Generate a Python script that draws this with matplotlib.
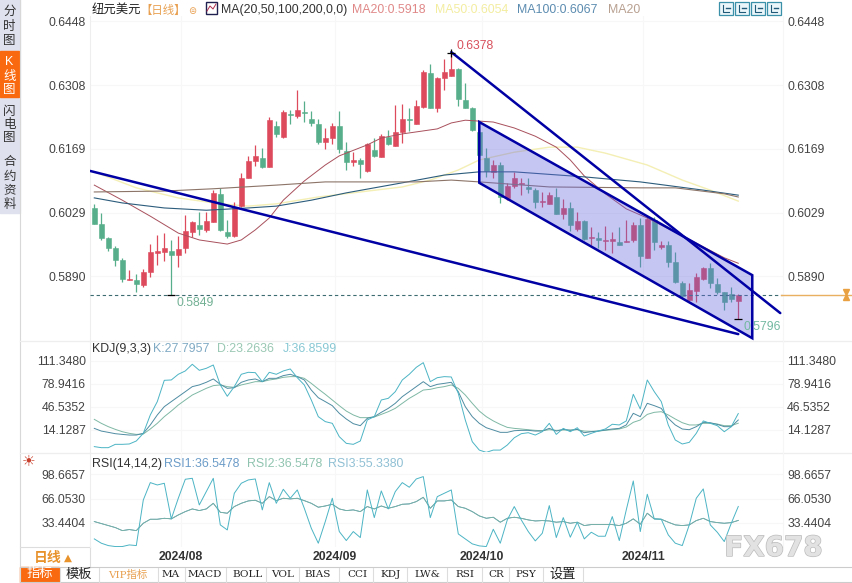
import matplotlib
matplotlib.use("Agg")
import matplotlib.pyplot as plt
import matplotlib.patheffects as pe
from matplotlib.patches import Rectangle, Polygon

plt.rcParams['font.family'] = ['Liberation Sans', 'Noto Sans CJK SC', 'DejaVu Sans']

# ---------- data ----------
opens = [.6039,.6004,.5973,.5951,.5925,.5881,.5881,.5870,.5899,.5940,.5943,.5945,.5936,.5951,.5986,.6002,.5991,.6008,.6070,.5986,.5978,.6043,.6105,.6142,.6148,.6129,.6218,.6194,.6245,.6240,.6249,.6234,.6223,.6183,.6192,.6218,.6164,.6140,.6144,.6120,.6166,.6151,.6194,.6175,.6205,.6234,.6223,.6260,.6334,.6258,.6323,.6328,.6343,.6275,.6258,.6205,.6148,.6118,.6133,.6061,.6087,.6091,.6085,.6078,.6052,.6048,.6063,.6026,.6039,.5993,.6010,.5973,.5973,.5967,.5967,.5965,.5965,.5969,.6002,.5929,.6013,.5954,.5958,.5921,.5875,.5838,.5857,.5884,.5908,.5873,.5855,.5851,.5835]
highs = [.6048,.6028,.5975,.5956,.5929,.5903,.5894,.5905,.5960,.5980,.5984,.5969,.5978,.6024,.6010,.6030,.6030,.6078,.6083,.6013,.6052,.6115,.6153,.6177,.6170,.6238,.6229,.6253,.6253,.6297,.6273,.6251,.6234,.6214,.6225,.6251,.6183,.6161,.6148,.6181,.6192,.6201,.6210,.6264,.6266,.6258,.6275,.6341,.6354,.6326,.6365,.6378,.6345,.6312,.6260,.6218,.6170,.6144,.6140,.6094,.6118,.6105,.6105,.6083,.6074,.6074,.6083,.6059,.6052,.6030,.6013,.5997,.5986,.5999,.5986,.5997,.6013,.6008,.6017,.6021,.6019,.5967,.5967,.5943,.5879,.5875,.5897,.5910,.5919,.5886,.5855,.5866,.5851]
lows = [.6004,.5969,.5945,.5912,.5877,.5881,.5855,.5866,.5888,.5914,.5923,.5849,.5910,.5940,.5975,.5980,.5986,.6008,.5989,.5973,.5975,.6041,.6105,.6131,.6126,.6129,.6194,.6192,.6223,.6236,.6227,.6218,.6179,.6168,.6179,.6159,.6122,.6131,.6105,.6118,.6151,.6151,.6177,.6175,.6181,.6207,.6223,.6258,.6258,.6249,.6297,.6328,.6262,.6258,.6207,.6151,.6107,.6105,.6050,.6056,.6083,.6067,.6072,.6039,.6041,.6048,.6026,.6015,.5989,.5989,.5969,.5958,.5951,.5947,.5940,.5958,.5965,.5965,.5910,.5929,.5947,.5949,.5910,.5875,.5842,.5835,.5833,.5881,.5864,.5851,.5816,.5833,.5796]
closes = [.6004,.5973,.5951,.5925,.5884,.5884,.5873,.5899,.5943,.5945,.5951,.5936,.5949,.5989,.6008,.5993,.6010,.6072,.5991,.5978,.6041,.6105,.6142,.6153,.6129,.6231,.6201,.6249,.6242,.6253,.6247,.6225,.6183,.6192,.6218,.6168,.6140,.6144,.6135,.6179,.6153,.6196,.6179,.6205,.6234,.6231,.6262,.6336,.6258,.6323,.6336,.6343,.6277,.6258,.6210,.6155,.6120,.6133,.6063,.6087,.6105,.6094,.6080,.6052,.6054,.6067,.6026,.6039,.6002,.6010,.5971,.5975,.5969,.5969,.5971,.5958,.5967,.6002,.5934,.6015,.5965,.5958,.5921,.5877,.5846,.5859,.5888,.5908,.5875,.5855,.5833,.5840,.5849]

ma20_idx = [0,4,8,12,15,19,21,23,25,27,30,33,35,39,41,44,49,51,53,55,57,60,63,66,68,70,73,76,79,83,87,90,92]
ma20_val = [.6089,.6056,.6021,.5984,.5969,.5960,.5969,.5991,.6017,.6056,.6098,.6133,.6153,.6177,.6192,.6201,.6212,.6225,.6231,.6229,.6227,.6214,.6196,.6172,.6144,.6109,.6070,.6037,.6017,.5986,.5954,.5930,.5918]
ma50_idx = [0,6,12,18,22,26,32,38,44,48,52,55,60,65,69,73,79,84,88,92]
ma50_val = [.6118,.6083,.6061,.6048,.6043,.6048,.6063,.6074,.6085,.6100,.6122,.6144,.6161,.6172,.6172,.6159,.6133,.6100,.6078,.6054]
ma100_idx = [0,4,10,16,22,26,31,36,44,50,55,60,70,78,87,92]
ma100_val = [.6061,.6050,.6039,.6034,.6039,.6043,.6056,.6072,.6094,.6111,.6118,.6118,.6107,.6096,.6078,.6067]
ma200_idx = [0,10,17,26,33,46,51,55,65,78,83,90,92]
ma200_val = [.6074,.6076,.6081,.6089,.6096,.6096,.6100,.6096,.6085,.6083,.6083,.6070,.6063]

trend_long_idx = [-0.6, 92]
trend_long_val = [.6120, .5763]
trend_steep_idx = [51, 98]
trend_steep_val = [.6380, .5809]
channel_idx = [55, 94, 94, 55]
channel_val = [.6227, .5892, .5754, .6094]

kdj_k = [16,12.2,10.4,8.5,7.5,6.6,6.6,9,20.8,34.9,46.6,53.7,60.7,67.7,74.8,77.2,80.9,85.6,78,72.4,73.3,80.9,84.2,85.6,81.8,86.5,86.5,90.3,92.2,88.9,84.2,70,59.2,53.7,48,37.2,29.2,22.6,19.8,30.1,32.5,38.6,44.2,51.3,60.7,67.7,74.8,81.8,74.8,
         78,79.4,80.9,67.7,46.6,32.5,23.1,16.9,13.7,10.4,10.4,12.7,13.2,13.2,12.2,12.2,16,12.2,14.6,13.2,14.6,9.9,11.3,12.2,13.7,15.1,16,20.8,37.2,32.5,51.3,48,44.2,30.1,20.8,15.1,14.1,18.4,24.5,24,21.6,18.4,18.4,27.8]
kdj_d = [28.7,23.1,18.4,14.6,11.3,9,7.5,8,15.1,23.1,32.5,40.4,48.9,56,63,67.7,72.4,76.2,77.2,74.8,73.8,77.2,79.4,81.8,81.8,84.2,85.6,87.9,88.9,88.9,86.5,79.4,71.5,64,56,48,40.4,34.9,31.1,31.1,32,35.7,39.5,44.2,51.3,58.3,64,70,71,
         73.3,74.8,77.2,72.4,63,51.3,40.4,32.5,26.5,21.6,17.4,16,15.1,14.1,13.2,12.7,14.1,13.2,13.7,13.7,14.1,12.2,11.8,12.2,13.2,14.1,15.1,17.9,24.5,27.8,35.7,38.6,39.5,34.9,29.2,24,20.8,20.8,23.1,23.1,22.1,19.8,19.8,23.3]
kdj_j = [-9.7,-11.2,-11.2,-6.5,-6.5,-6,-1.8,9,34.9,53.7,83.7,84.2,92.2,96.9,106.3,97.8,100.6,105.3,77.2,61.2,74.8,92.2,95,94.5,81.8,95,92.2,96.9,99.7,87.4,77.2,56,32.5,25.5,23.1,4.3,-5.1,-6.5,-1.8,27.8,32.5,56,58.3,67.7,84.2,92.2,102,108.6,81.8,
         87.4,88.9,88.4,65.3,27.8,-2.8,-14.6,-17.8,-14.6,-14.6,-7.5,2.8,8.5,9.9,6.6,11.3,23.1,7.5,16,11.3,16.9,5.2,9,12.3,15.1,21.8,20.8,26.5,64,43.3,84.2,67.7,53.7,20.8,-0.4,-6,-3.7,9,26.5,23.1,19.8,11.3,18.4,36.9]

rsi1 = [35,32.3,29.6,26.9,22.8,24.2,22.8,32.7,38.1,38.1,39.4,38.6,43.9,48.4,52,49.8,52,59.6,47.5,46.2,55.2,59.6,62.8,63.7,59.6,68.6,63.2,66.4,65.5,66.4,63.2,59.6,54.3,56,58.3,52,49.8,50.7,48.4,55.2,52,56,52.9,55.2,58.3,58.8,61.9,67.7,52.9,
        62.8,62.8,64.1,55.2,52.9,48.4,42.6,39.4,40.8,34.1,39.4,40.8,39.4,37.2,35.8,36.3,35.8,34.1,35,32.7,34.1,29.6,30.9,30.9,30.9,30.9,29.6,32.7,38.6,31.4,46.2,38.6,38.1,34.1,30.5,29.6,30.5,36.3,39.4,35,33.6,32.7,33.6,36.5]
rsi3 = [11.6,5.8,2.6,1.3,1.3,3.5,2.6,64.1,87.5,84.3,86.6,38.6,66.4,92,93.3,57.4,75.4,93.3,30.5,23.7,73.1,86.6,91.1,92.4,50.7,87.5,59.6,78.5,66.4,77.6,52.9,26,5.8,35,66.4,21.5,9.4,21.5,13.4,77.6,40.3,76.3,52,75.4,87.5,81.2,92.4,95.6,40.3,
        68.6,73.1,77.6,18.3,11.6,4.9,2.2,1.3,24.6,5.8,37.2,55.2,37.2,21.5,8.9,19.2,56.5,13.4,40.3,13.9,34.1,11.6,20.6,15.2,15.2,41.7,9.4,50.7,89.7,21.5,71.8,38.6,38.1,17,5.8,2.6,30.5,66.4,79,30.5,20.6,8,32.7,55.3]

price_ticks = [0.6448, 0.6308, 0.6169, 0.6029, 0.5890]
kdj_ticks = [111.3480, 78.9416, 46.5352, 14.1287]
rsi_ticks = [98.6657, 66.0530, 33.4404]
month_pos = [12.4, 34.4, 55.4, 78.4]
month_labels = ['2024/08', '2024/09', '2024/10', '2024/11']
last_price = 0.5849
tabs = ['模板', 'VIP指标', 'MA', 'MACD', 'BOLL', 'VOL', 'BIAS', 'CCI', 'KDJ', 'LW&', 'RSI', 'CR', 'PSY', '设置']

# ---------- layout ----------
W, H = 852, 583
fig = plt.figure(figsize=(W/100, H/100), dpi=100, facecolor='white')

def axpx(l, t, r, b, **kw):
    return fig.add_axes([l/W, 1-b/H, (r-l)/W, (b-t)/H], **kw)

XLIM = (-0.614, 98.39)
TXT = '#444444'
GRID = '#f7f7f7'
RED, GREEN = '#dc4a5c', '#56ae8a'
NAVY = '#0000a4'

def style(ax, ticks, labels, ylim):
    ax.set_xlim(*XLIM)
    ax.set_ylim(*ylim)
    ax.set_yticks(ticks)
    ax.set_yticklabels(labels)
    ax.tick_params(axis='y', length=0, labelsize=8.8, labelcolor=TXT, pad=3,
                   left=False, right=False, labelleft=True, labelright=True)
    ax.tick_params(axis='x', length=0)
    ax.set_xticks(month_pos)
    ax.set_xticklabels([])
    ax.grid(True, color=GRID, lw=0.8)
    ax.set_axisbelow(True)
    for s in ax.spines.values():
        s.set_visible(False)
    ax.spines['left'].set_visible(True)
    ax.spines['left'].set_color('#eeeeee')
    ax.spines['right'].set_visible(True)
    ax.spines['right'].set_color('#f6f6f6')
    ax.patch.set_alpha(0)

# ---------- price panel ----------
ax = axpx(90, 16, 783, 341)
style(ax, price_ticks, [f'{t:.4f}' for t in price_ticks], (.57479, .64590))
idx = list(range(len(opens)))
colors = [RED if c >= o else GREEN for o, c in zip(opens, closes)]
ax.vlines(idx, lows, highs, colors=colors, lw=0.9, zorder=3)
ax.bar(idx, [abs(c-o) for o, c in zip(opens, closes)], bottom=[min(o, c) for o, c in zip(opens, closes)],
       width=0.72, color=colors, edgecolor=colors, lw=0.4, zorder=3)
ax.plot(ma20_idx, ma20_val, color='#a8505c', lw=0.7, zorder=4)
ax.plot(ma50_idx, ma50_val, color='#f4efb4', lw=1.0, zorder=2)
ax.plot(ma100_idx, ma100_val, color='#2c5c7c', lw=0.8, zorder=4)
ax.plot(ma200_idx, ma200_val, color='#8c7468', lw=0.8, zorder=4)
ax.axhline(last_price, color='#3c6c70', lw=0.8, dashes=(3, 2.5), zorder=4)
ax.add_patch(Polygon(list(zip(channel_idx, channel_val)), closed=True, facecolor='#6666e0', alpha=0.37, edgecolor='none', zorder=5))
ax.add_patch(Polygon(list(zip(channel_idx, channel_val)), closed=True, fill=False, edgecolor=NAVY, lw=1.8, zorder=6))
ax.plot(trend_long_idx, trend_long_val, color=NAVY, lw=1.8, zorder=6, solid_capstyle='round')
ax.plot(trend_steep_idx, trend_steep_val, color=NAVY, lw=1.8, zorder=6, solid_capstyle='round')
ax.plot([51], [max(highs)], marker='+', color='black', ms=6, mew=0.9, zorder=7)
ax.plot([11], [min(lows[:40])], marker='_', color='black', ms=6, mew=0.9, zorder=7)
ax.plot([92], [min(lows)], marker='_', color='black', ms=6, mew=0.9, zorder=7)
ax.text(51.7, .6394, '0.6378', color='#d8505c', fontsize=8.8, va='center', zorder=8)
ax.text(11.7, .5831, '0.5849', color='#72b094', fontsize=8.8, va='center', zorder=8)
ax.text(92.7, .5778, '0.5796', color='#72b8a0', fontsize=8.8, va='center', zorder=5)

# ---------- KDJ panel ----------
ax2 = axpx(90, 341, 783, 452)
style(ax2, kdj_ticks, [f'{t:.4f}' for t in kdj_ticks], (-17.3, 139.1))
ax2.plot(idx, kdj_d, color='#7fb8a4', lw=0.7)
ax2.plot(idx, kdj_k, color='#4f8ca2', lw=0.7)
ax2.plot(idx, kdj_j, color='#4cb4c4', lw=0.7)

# ---------- RSI panel ----------
ax3 = axpx(90, 453, 783, 547)
style(ax3, rsi_ticks, [f'{t:.4f}' for t in rsi_ticks], (0.69, 127.4))
ax3.plot(idx, rsi1, color='#5a90b4', lw=0.6)
ax3.plot(idx, rsi1, color='#78b4a4', lw=0.6)
ax3.plot(idx, rsi3, color='#4cb4c4', lw=0.7)
ax3.set_xticklabels(month_labels, fontsize=8.8, fontweight='bold', color='#333333')
ax3.tick_params(axis='x', pad=3)

# ---------- page furniture (pixel coordinates) ----------
ui = fig.add_axes([0, 0, 1, 1], zorder=-1)
ui.set_xlim(0, W); ui.set_ylim(H, 0); ui.axis('off')
top = fig.add_axes([0, 0, 1, 1], zorder=10)
top.set_xlim(0, W); top.set_ylim(H, 0); top.axis('off'); top.patch.set_alpha(0)

ui.add_patch(Rectangle((0, 0), 20, 213, color='#dfe1ee'))
ui.add_patch(Rectangle((0, 51), 19, 46, color='#f96a10'))
ui.plot([20, 20], [0, 583], color='#d8d8d8', lw=0.8)
for ypx in (567, 582):
    ui.plot([20, 852], [ypx, ypx], color='#cccccc', lw=0.8)
ui.plot([20, 90], [547, 547], color='#dddddd', lw=0.8)
ui.plot([90, 90], [547, 567], color='#dddddd', lw=0.8)
for ypx in (340.5, 452.5):
    ui.plot([20, 852], [ypx, ypx], color='#eeeeee', lw=0.9)
ui.add_patch(Rectangle((20, 567), 39, 14.5, color='#f96a10'))
for xs in (60, 99, 158, 185, 226, 266, 299, 339, 373, 407, 447, 482, 509, 543, 583):
    ui.plot([xs, xs], [568, 582], color='#dddddd', lw=0.8)

def vtext(chars, ys, color):
    for c, y in zip(chars, ys):
        top.text(9.5, y, c, ha='center', va='center', fontsize=9, color=color)
vtext('分时图', [12, 27, 41], '#333333')
vtext('K线图', [62, 77, 90], '#ffffff')
vtext('闪电图', [112, 125, 138], '#333333')
vtext('合约资料', [162, 177, 190, 205], '#333333')

def label(x, y, s, color='#222222', size=8.9, **kw):
    top.text(x, y, s, color=color, fontsize=size, va='center', ha=kw.pop('ha', 'left'), **kw)

label(92, 10, '纽元美元')
label(140.5, 10, '【日线】', color='#e8a050', size=8.2)
label(188.5, 10.5, '⊜', color='#e8a050', size=7)
top.add_patch(Rectangle((206, 1.5), 11, 12, fill=False, edgecolor='#202050', lw=1))
top.plot([207, 210, 213, 216], [11, 6, 9, 4], color='#b03050', lw=0.7)
label(221, 10, 'MA(20,50,100,200,0,0)', color='#333333')
label(352, 10, 'MA20:0.5918', color='#e08888')
label(435, 10, 'MA50:0.6054', color='#f3eda0')
label(517, 10, 'MA100:0.6067', color='#5c8cb0')
label(608, 10, 'MA20', color='#b8a090')

for x0 in (719, 735, 751, 767):
    top.add_patch(Rectangle((x0, 2), 14, 13, facecolor='#eaf6fa', edgecolor='#3a90a8', lw=0.9))
    top.plot([x0+4, x0+4, x0+10], [4.5, 12, 12], color='#205a78', lw=0.8)
    top.plot([x0+7, x0+11], [8, 8], color='#205a78', lw=1.0)

label(92, 349, 'KDJ(9,3,3)', color='#333333')
label(153, 349, 'K:27.7957', color='#80aac4')
label(217, 349, 'D:23.2636', color='#9ac8b4')
label(283, 349, 'J:36.8599', color='#88c8d4')
label(92, 464, 'RSI(14,14,2)', color='#333333')
label(164, 464, 'RSI1:36.5478', color='#6c9cc8')
label(247, 464, 'RSI2:36.5478', color='#90c4b0')
label(328, 464, 'RSI3:55.3380', color='#90c0d4')
label(29, 461, '☀', color='#c8402c', size=11, ha='center', family='DejaVu Sans')

label(34, 558, '日线', color='#e8922c', size=10, fontweight='bold')
label(68, 558, '▲', color='#e8922c', size=7.5, ha='center', family='DejaVu Sans')
label(40, 574, '指标', color='#ffffff', size=9.5, ha='center')
tab_x = [79, 128, 171, 205, 248, 283, 318, 357, 391, 427, 465, 496, 526, 563]
for t, x in zip(tabs, tab_x):
    cjk = t in ('模板', '设置')
    col = '#e8a050' if t == 'VIP指标' else '#222222'
    if cjk:
        label(x, 574.5, t, color=col, size=9.5, ha='center')
    else:
        top.text(x, 574.5, t, color=col, fontsize=7.5, ha='center', va='center',
                 family=['DejaVu Serif', 'Noto Sans CJK SC'])

# current-price marker on the right
top.plot([781, 852], [294.5, 294.5], color='#e8b060', lw=1.0)
top.plot([846], [291.5], marker='v', color='#e8a040', ms=4.5)
top.plot([846], [297], marker='^', color='#e8a040', ms=4.5)

top.text(773.5, 548, 'FX678', fontsize=20, fontweight='bold', family='DejaVu Sans', color='#e2e2e2', ha='center', va='center',
         path_effects=[pe.withStroke(linewidth=1.0, foreground='#bcbcbc')])

fig.savefig('out.png', dpi=100)
